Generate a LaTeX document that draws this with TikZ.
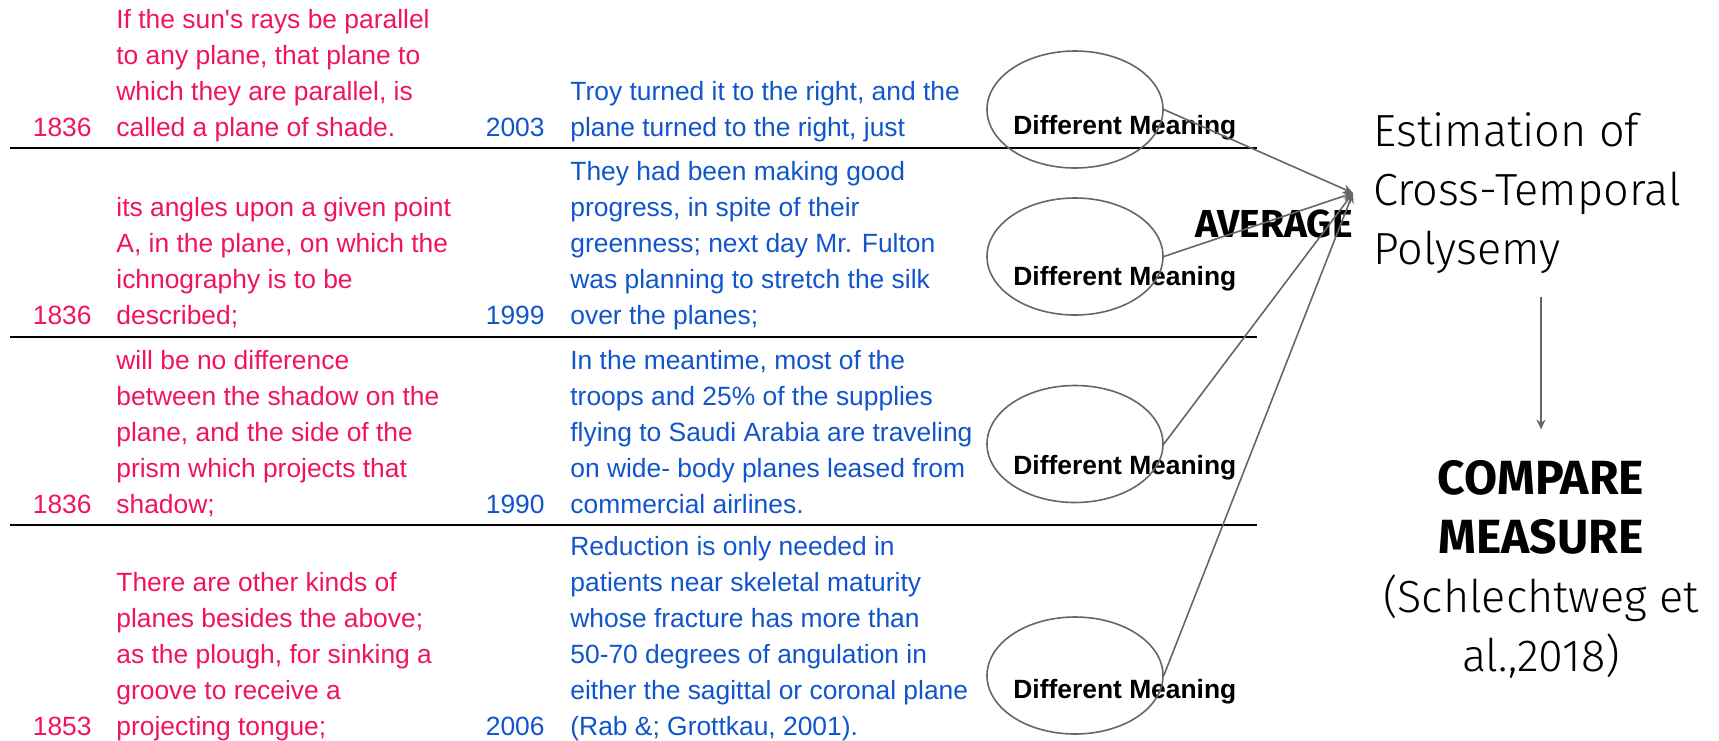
\documentclass[tikz,border=0pt]{standalone}
\usepackage{fontspec}
\setmainfont{Liberation Sans}
\newfontfamily\firafont{Fira Sans}[UprightFont=* Light, BoldFont=* Bold]
\usetikzlibrary{shapes.geometric,arrows.meta}
\definecolor{oldred}{HTML}{F0145A}
\definecolor{newblue}{HTML}{1155CC}
\definecolor{linkgray}{HTML}{666666}

\begin{document}
\begin{tikzpicture}[x=0.5pt, y=-0.5pt,
    cell/.style={align=left, anchor=base west, inner sep=0pt, font=\fontsize{13.2}{18}\selectfont},
    year/.style={anchor=base east, inner sep=0pt, font=\fontsize{13.2}{18}\selectfont},
    sense/.style={ellipse, draw=linkgray, line width=0.8pt, minimum width=88pt, minimum height=58.5pt, inner sep=0pt},
    meaning/.style={anchor=base west, inner sep=0pt, font=\fontsize{13.2}{18}\selectfont\bfseries},
    link/.style={draw=linkgray, line width=0.8pt, -{Stealth[length=5pt,width=4.5pt]}},
    big/.style={inner sep=0pt, font=\firafont\fontsize{22.5}{29.5}\selectfont}]
    \useasboundingbox (0,0) rectangle (1719,740);

    % Row separators
    \foreach \y in {148,337,525}
        \draw[line width=1pt] (10,\y) -- (1257,\y);

    % Old usages (cells sit on the baseline of their last line)
    \node[cell, oldred] (old1) at (116,136) {If the sun\textquotesingle s rays be parallel\\to any plane, that plane to\\which they are parallel, is\\called a plane of shade.};
    \node[year, oldred] (oy1) at (92,136) {1836};
    \node[cell, oldred] (old2) at (116,324) {its angles upon a given point\\A, in the plane, on which the\\ichnography is to be\\described;};
    \node[year, oldred] (oy2) at (92,324) {1836};
    \node[cell, oldred] (old3) at (116,513) {will be no difference\\between the shadow on the\\plane, and the side of the\\prism which projects that\\shadow;};
    \node[year, oldred] (oy3) at (92,513) {1836};
    \node[cell, oldred] (old4) at (116,735) {There are other kinds of\\planes besides the above;\\as the plough, for sinking a\\groove to receive a\\projecting tongue;};
    \node[year, oldred] (oy4) at (92,735) {1853};

    % New usages
    \node[cell, newblue] (new1) at (570,136) {Troy turned it to the right, and the\\plane turned to the right, just};
    \node[year, newblue] (ny1) at (545,136) {2003};
    \node[cell, newblue] (new2) at (570,324) {They had been making good\\progress, in spite of their\\greenness; next day Mr. Fulton\\was planning to stretch the silk\\over the planes;};
    \node[year, newblue] (ny2) at (545,324) {1999};
    \node[cell, newblue] (new3) at (570,513) {In the meantime, most of the\\troops and 25\% of the supplies\\flying to Saudi Arabia are traveling\\on wide- body planes leased from\\commercial airlines.};
    \node[year, newblue] (ny3) at (545,513) {1990};
    \node[cell, newblue] (new4) at (570,735) {Reduction is only needed in\\patients near skeletal maturity\\whose fracture has more than\\50-70 degrees of angulation in\\either the sagittal or coronal plane\\(Rab \&; Grottkau, 2001).};
    \node[year, newblue] (ny4) at (545,735) {2006};

    % Sense ellipses
    \foreach \i/\cy/\ty in {1/109.5/134, 2/256.5/285, 3/444/474, 4/675.5/698} {
        \node[meaning] (m\i) at (1013,\ty) {Different Meaning};
        \node[sense] (s\i) at (1075,\cy) {};
    }

    % Averaging
    \node[anchor=base east, inner sep=0pt, font=\firafont\bfseries\fontsize{19.5}{24}\selectfont] (avg) at (1353,237) {AVERAGE};
    \coordinate (poly) at (1353,193);
    \foreach \i in {1,...,4}
        \draw[link] (s\i.east) -- (poly);

    % Result
    \node[big, align=left, anchor=base west] (est) at (1373,264) {Estimation of\\Cross-Temporal\\Polysemy};
    \node[big, align=center, anchor=base] (cmp) at (1541,671) {{\bfseries\fontsize{24}{29.5}\selectfont COMPARE}\\{\bfseries\fontsize{24}{29.5}\selectfont MEASURE}\\(Schlechtweg et\\al.,2018)};
    \draw[link, shorten <=11.5pt, shorten >=15pt] (est.south -| cmp.north) -- (cmp.north);
\end{tikzpicture}
\end{document}
